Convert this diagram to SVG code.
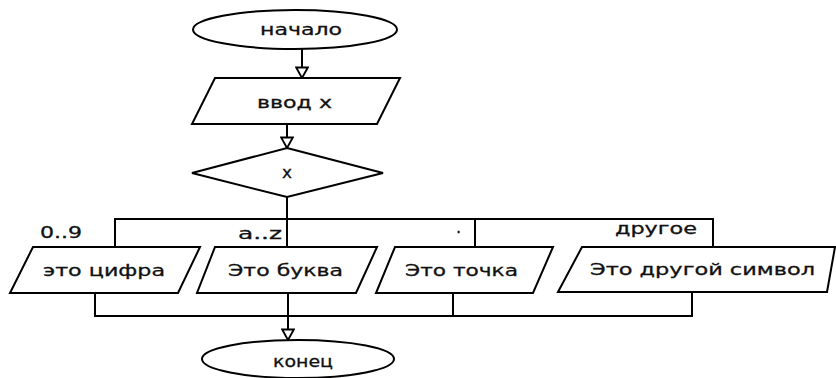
<svg xmlns="http://www.w3.org/2000/svg" width="836" height="378" viewBox="0 0 836 378">
<style>
.s{fill:#fff;stroke:#000;stroke-width:2}
.t{font-family:"DejaVu Sans",sans-serif;font-size:16px;fill:#111;stroke:#111;stroke-width:0.3}
.c{fill:none;stroke:#000;stroke-width:2}
</style>
<defs>
<marker id="ah" markerUnits="userSpaceOnUse" markerWidth="14" markerHeight="14" refX="11" refY="6" orient="auto" viewBox="0 0 12 12">
<path d="M2,1 L11,6 L2,11 Z" fill="#fff" stroke="#000" stroke-width="1.6"/>
</marker>
</defs>
<rect width="836" height="378" fill="#fff"/>
<g id="connectors">
<path class="c" d="M302,49 V78" marker-end="url(#ah)"/>
<path class="c" d="M287,124 V148" marker-end="url(#ah)"/>
<path class="c" d="M287,197 V247"/>
<path class="c" d="M115,247 V219 H713 V247"/>
<path class="c" d="M475,219 V247"/>
<path class="c" d="M95,293 V316 H692 V292"/>
<path class="c" d="M453,293 V316"/>
<path class="c" d="M288,293 V340" marker-end="url(#ah)"/>
<text class="t" x="40" y="238" textLength="42" lengthAdjust="spacingAndGlyphs">0..9</text>
<text class="t" x="238" y="239" textLength="44" lengthAdjust="spacingAndGlyphs">a..z</text>
<text class="t" x="456" y="233">.</text>
<text class="t" x="615" y="234" textLength="82" lengthAdjust="spacingAndGlyphs">другое</text>
</g>
<g id="start">
<ellipse class="s" cx="295" cy="29.5" rx="102" ry="19.5"/>
<text class="t" x="260" y="35" textLength="82" lengthAdjust="spacingAndGlyphs">начало</text>
</g>
<g id="input">
<polygon class="s" points="215,78 400,78 377,124 192,124"/>
<text class="t" x="257" y="108" textLength="75" lengthAdjust="spacingAndGlyphs">ввод х</text>
</g>
<g id="decision">
<polygon class="s" points="287,148 383,173 287,197 192,173"/>
<text class="t" x="282" y="178" textLength="10" lengthAdjust="spacingAndGlyphs">x</text>
</g>
<g id="digit">
<polygon class="s" points="33,247 200,247 178,293 10,293"/>
<text class="t" x="43" y="276" textLength="122" lengthAdjust="spacingAndGlyphs">это цифра</text>
</g>
<g id="letter">
<polygon class="s" points="215,247 377,247 356,293 197,293"/>
<text class="t" x="228" y="276" textLength="115" lengthAdjust="spacingAndGlyphs">Это буква</text>
</g>
<g id="dot">
<polygon class="s" points="395,247 553,247 533,293 376,293"/>
<text class="t" x="405" y="276" textLength="113" lengthAdjust="spacingAndGlyphs">Это точка</text>
</g>
<g id="other">
<polygon class="s" points="582,247 835,247 827,292 558,292"/>
<text class="t" x="590" y="275" textLength="225" lengthAdjust="spacingAndGlyphs">Это другой символ</text>
</g>
<g id="end">
<ellipse class="s" cx="298" cy="359" rx="96" ry="19"/>
<text class="t" x="273" y="367" textLength="60" lengthAdjust="spacingAndGlyphs">конец</text>
</g>
</svg>
